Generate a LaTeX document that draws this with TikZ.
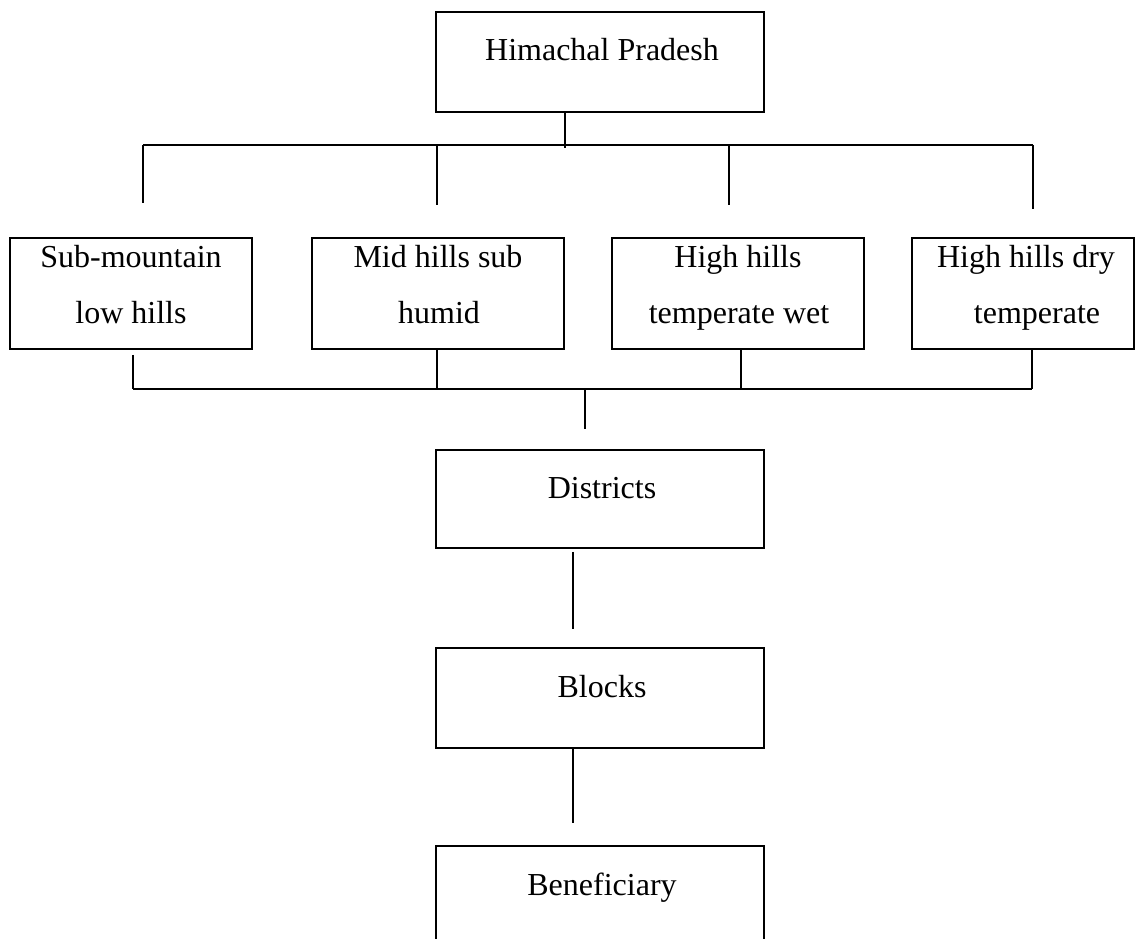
\documentclass[tikz,border=0pt]{standalone}
\usepackage{fontspec}
\setmainfont{Liberation Serif}
\usetikzlibrary{calc}
\begin{document}
\begin{tikzpicture}[x=1pt,y=-1pt,
  box/.style={draw,line width=1.6pt,inner sep=0pt,minimum width=#1},
  box/.default=252pt,
  conn/.style={line width=1.6pt},
  lbl/.style={anchor=base,inner sep=0pt,font=\fontsize{32}{38}\selectfont}]
\useasboundingbox (0,0) rectangle (1136,939);

% boxes
\node[box=328pt,minimum height=100pt] (hp) at (600,62) {};
\node[box=242pt,minimum height=111pt] (b1) at (131,293.5) {};
\node[box,minimum height=111pt] (b2) at (438,293.5) {};
\node[box,minimum height=111pt] (b3) at (738,293.5) {};
\node[box=222pt,minimum height=111pt] (b4) at (1023,293.5) {};
\node[box=328pt,minimum height=98pt] (dist) at (600,499) {};
\node[box=328pt,minimum height=100pt] (blk) at (600,698) {};
\node[box=328pt,minimum height=100pt] (ben) at (600,896) {};

% labels
\node[lbl] (hpt) at (602,61) {Himachal Pradesh};
\node[lbl] (b1a) at (131,267) {Sub-mountain};
\node[lbl] (b1b) at (131,323) {low hills};
\node[lbl] (b2a) at (438,267) {Mid hills sub};
\node[lbl] (b2b) at (439,323) {humid};
\node[lbl] (b3a) at (738,267) {High hills};
\node[lbl] (b3b) at (739,323) {temperate wet};
\node[lbl] (b4a) at (1026,267) {High hills dry};
\node[lbl] (b4b) at (1037,323) {temperate};
\node[lbl] (distt) at (602,498) {Districts};
\node[lbl] (blkt) at (602,697) {Blocks};
\node[lbl] (bent) at (602,895) {Beneficiary};

% top bus
\coordinate (hpstem) at (565,148);
\coordinate (busTL) at (143,145);
\coordinate (busTR) at (1033,145);
\coordinate (d1) at (143,203);
\coordinate (d2) at (437,205);
\coordinate (d3) at (729,205);
\coordinate (d4) at (1033,209);
\draw[conn] (hp.south -| hpstem) -- (hpstem);
\draw[conn] (busTL) -- (busTR);
\draw[conn] (busTL) -- (d1);
\draw[conn] (busTL -| d2) -- (d2);
\draw[conn] (busTL -| d3) -- (d3);
\draw[conn] (busTR) -- (d4);

% bottom bus
\coordinate (busBL) at (133,389);
\coordinate (busBR) at (1032,389);
\coordinate (s2) at (437,389);
\coordinate (s3) at (741,389);
\draw[conn] ([yshift=-5pt]b1.south -| busBL) -- (busBL);
\draw[conn] (b2.south -| s2) -- (s2);
\draw[conn] (b3.south -| s3) -- (s3);
\draw[conn] (b4.south -| busBR) -- (busBR);
\draw[conn] (busBL) -- (busBR);
\coordinate (ds) at (585,389);
\coordinate (dsEnd) at (585,429);
\draw[conn] (ds) -- (dsEnd);

% lower chain
\coordinate (k1) at (573,629);
\coordinate (k2) at (573,823);
\draw[conn] ([yshift=-3pt]dist.south -| k1) -- (k1);
\draw[conn] (blk.south -| k2) -- (k2);
\end{tikzpicture}
\end{document}
